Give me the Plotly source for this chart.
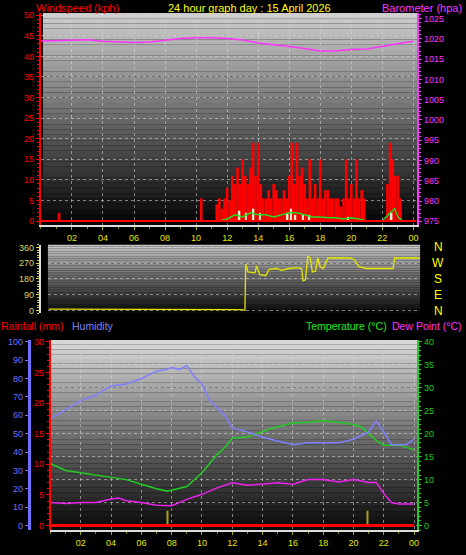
import numpy as np
import plotly.graph_objects as go

W, H = 466, 555
FONT = "Liberation Sans"

# ---------------- data ----------------
hours_tick = ["02", "04", "06", "08", "10", "12", "14", "16", "18", "20", "22", "00"]
tick_vals = [2, 4, 6, 8, 10, 12, 14, 16, 18, 20, 22, 24]

gust_times = [1.17, 10.33,
              11.33, 11.5, 11.67, 11.83, 12.0, 12.17, 12.33, 12.5, 12.67, 12.83,
              13.0, 13.17, 13.33, 13.5, 13.67, 13.83, 14.0, 14.17, 14.33, 14.5,
              14.67, 14.83, 15.0, 15.17, 15.33, 15.5, 15.67, 15.83, 16.0, 16.17,
              16.33, 16.5, 16.67, 16.83, 17.0, 17.17, 17.33, 17.5, 17.67, 17.83,
              18.0, 18.17, 18.33, 18.5, 18.67, 18.83, 19.0, 19.17, 19.33, 19.5,
              19.67, 19.83, 20.0, 20.17, 20.33, 20.5, 20.67, 20.83,
              22.33, 22.5, 22.67, 22.83, 23.0, 23.17]
gust_vals = [2, 5.5,
             4, 5.5, 3, 5.5, 8, 5, 11, 9, 13, 9,
             15, 11, 9, 13, 19, 11, 19, 9, 5.5, 5.5,
             7.5, 5.5, 9, 7.5, 5.5, 5.5, 7.5, 5.5, 11, 19,
             9, 19, 11, 13, 9, 5.5, 15, 5.5, 9, 5.5,
             15, 5.5, 7.5, 7.5, 5.5, 5.5, 5.5, 5.5, 3.5, 5.5,
             15, 5.5, 9, 5.5, 15, 5.5, 7.5, 5.5,
             9, 19, 15, 11, 11, 5.5]
avg_times = [11.5, 12.0, 12.5, 13.0, 13.5, 14.0, 14.5, 15.0, 15.5, 16.0, 16.5, 17.0,
             17.5, 18.0, 18.5, 19.0, 19.5, 20.0, 20.5, 21.0, 22.0, 22.5, 22.8, 23.0, 23.3]
avg_vals = [0, 0.5, 1.5, 1, 2, 1.5, 1.5, 1, 1.5, 2, 2, 1.5,
            1, 1, 0.8, 0.8, 0.5, 0.8, 0.5, 0, 0, 2, 3, 1, 0]
lull_times = [12.8, 13.2, 13.7, 14.1, 15.9, 16.1, 16.4, 16.9, 17.3, 19.8, 22.6]
lull_vals = [2.5, 2, 3, 2, 2, 3, 1.5, 1.5, 1.5, 1, 2]

baro_times = list(range(25))
baro_vals = [1019.5, 1019.6, 1019.8, 1019.8, 1019.4, 1019.2, 1019.1, 1019.2, 1019.6,
             1020.1, 1020.3, 1020.3, 1020.1, 1019.7, 1019.0, 1018.6, 1018.1, 1017.6,
             1017.0, 1017.0, 1017.4, 1017.5, 1018.2, 1018.8, 1019.4]

dir_times = [0.5, 12.5, 12.8, 13.15, 13.2, 13.35, 13.8, 13.9, 14.1, 14.5, 14.7, 15.2,
             15.5, 16.0, 16.5, 16.8, 16.9, 17.05, 17.2, 17.35, 17.5, 17.7, 17.85,
             18.0, 18.2, 18.5, 19.0, 19.9, 20.2, 20.5, 21.0, 22.0, 22.7, 22.8, 24.5]
dir_vals = [8, 8, 5, 2, 265, 220, 215, 255, 205, 200, 235, 240,
            230, 240, 245, 240, 170, 175, 310, 300, 220, 225, 300,
            250, 240, 300, 300, 300, 290, 250, 240, 240, 240, 300, 300]

hum_times = [0, 1, 2, 3, 4, 5, 6, 7, 7.7, 8, 8.5, 9, 9.5, 10, 10.5, 11, 11.5, 12, 13,
             14, 15, 16, 17, 18, 19, 20, 20.5, 21, 21.5, 22, 22.5, 23, 23.5, 24]
hum_vals = [58, 63, 68, 71, 76, 77, 80, 84, 85, 86, 85, 87, 81, 77, 68, 64, 60, 53, 51,
            48, 46, 44, 45, 45, 45, 47, 49, 51, 57, 51, 44, 44, 44, 47]

temp_times = [0, 1, 2, 3, 4, 5, 6, 7, 7.7, 8, 9, 10, 10.5, 11, 11.5, 12, 13, 14, 14.5,
              15, 16, 17, 18, 19, 20, 20.5, 21, 21.5, 22, 23, 24]
temp_vals = [13.5, 12, 11.5, 11, 10.5, 10, 9, 8, 7.5, 7.7, 8.5, 11.5, 13.5, 15.5, 17,
             19, 19.3, 20.5, 21, 21.5, 22.3, 22.5, 22.8, 22.5, 22, 21.5, 20, 18.5,
             17.5, 17.5, 16.5]

dew_times = [0, 1, 2, 3, 4, 4.5, 5, 6, 7, 8, 9, 10, 11, 12, 13, 14, 15, 16, 17, 18, 19,
             20, 21, 21.5, 22, 22.5, 23, 24]
dew_vals = [5, 4.8, 5, 5, 5.8, 6, 5.4, 5, 4.4, 4.3, 5.7, 6.8, 8.2, 9.3, 8.8, 9, 9.3, 9,
            10, 10, 9.5, 10, 9.4, 9.4, 7, 5, 4.7, 4.7]

rain_times = [0, 6, 12, 18, 24]
rain_vals = [0, 0, 0, 0, 0]

mark_times = [7.7, 20.9]
mark_height = [3.2, 3.2]

# ---------------- layout helpers ----------------
def fx(px):
    return px / W

def fy(py):
    return 1 - py / H

fig = go.Figure()

shapes = []
def gradient(x0, x1, y0, y1, top, bot, n=40):
    for i in range(n):
        t = i / (n - 1)
        c = int(top + (bot - top) * t)
        ya = y0 + (y1 - y0) * i / n
        yb = y0 + (y1 - y0) * (i + 1) / n
        shapes.append(dict(type="rect", xref="paper", yref="paper", layer="below",
                           x0=fx(x0), x1=fx(x1), y0=fy(ya), y1=fy(yb),
                           fillcolor=f"rgb({c},{c},{c})", line_width=0))

gradient(43, 418, 10, 224, 205, 5)
gradient(48, 421, 244, 313, 195, 10)
gradient(51, 420, 340, 532, 215, 10)

fig.add_bar(x=gust_times, y=gust_vals, width=0.17, marker_color="#ff0000",
            marker_line_width=0, xaxis="x", yaxis="y")
fig.add_bar(x=lull_times, y=lull_vals, width=0.1, marker_color="#e0f0d0",
            marker_line_width=0, xaxis="x", yaxis="y")
fig.add_scatter(x=avg_times, y=avg_vals, mode="lines", line=dict(color="#22dd22", width=1.5),
                xaxis="x", yaxis="y")
fig.add_scatter(x=baro_times, y=baro_vals, mode="lines", line=dict(color="#ff33ff", width=1.5),
                xaxis="x", yaxis="y2")

fig.add_scatter(x=dir_times, y=dir_vals, mode="lines", line=dict(color="#e6e600", width=1.3),
                xaxis="x2", yaxis="y3")

fig.add_scatter(x=rain_times, y=rain_vals, mode="lines", line=dict(color="#ff0000", width=3),
                xaxis="x3", yaxis="y5")
fig.add_scatter(x=hum_times, y=hum_vals, mode="lines", line=dict(color="#8080ff", width=1.5),
                xaxis="x3", yaxis="y4")
fig.add_scatter(x=temp_times, y=temp_vals, mode="lines", line=dict(color="#22cc22", width=1.5),
                xaxis="x3", yaxis="y6")
fig.add_scatter(x=dew_times, y=dew_vals, mode="lines", line=dict(color="#ee22ee", width=1.5),
                xaxis="x3", yaxis="y6")
fig.add_bar(x=mark_times, y=mark_height, width=0.08, marker_color="#b0a020",
            marker_line_width=0, xaxis="x3", yaxis="y6")

tickfont = lambda c: dict(family=FONT, size=9, color=c)
grid = dict(showgrid=True, gridcolor="rgba(215,215,215,0.55)", griddash="dot", gridwidth=1)

shapes.append(dict(type="line", xref="x", yref="y", x0=0, x1=24.2, y0=0, y1=0,
                   line=dict(color="#ff0000", width=2)))

fig.update_layout(
    width=W, height=H, margin=dict(l=0, r=0, t=0, b=0),
    paper_bgcolor="black", plot_bgcolor="rgba(0,0,0,0)",
    showlegend=False, barmode="overlay", shapes=shapes,
    xaxis=dict(domain=[fx(41), fx(418)], range=[0, 24.24], anchor="y",
               tickvals=tick_vals, ticktext=hours_tick, tickfont=tickfont("#e6e600"),
               ticks="outside", ticklen=3, tickcolor="#aaaa00", zeroline=False,
               minor=dict(dtick=1, ticks="outside", ticklen=2, tickcolor="#888800"),
               showline=True, linecolor="#dddddd", linewidth=2, **grid),
    yaxis=dict(domain=[fy(224), fy(10)], range=[-0.96, 50.55], dtick=5,
               tickfont=tickfont("#ff0000"), ticks="outside", ticklen=3, tickcolor="#ff0000",
               minor=dict(dtick=1, ticks="outside", ticklen=2, tickcolor="#ff0000"),
               showline=True, linecolor="#ff0000", linewidth=2, zeroline=False, **grid),
    yaxis2=dict(overlaying="y", side="right", range=[974.1, 1026.4], dtick=5,
                tickfont=tickfont("#ff33ff"), ticks="outside", ticklen=3, tickcolor="#ff33ff",
                minor=dict(dtick=1, ticks="outside", ticklen=2, tickcolor="#ff33ff"),
                showline=True, linecolor="#ff33ff", linewidth=2, showgrid=False, zeroline=False),
    xaxis2=dict(domain=[fx(48), fx(421)], range=[0.45, 24.44], anchor="y3",
                showticklabels=False, ticks="", tickvals=tick_vals, zeroline=False,
                showline=False, showgrid=False),
    yaxis3=dict(domain=[fy(313), fy(244)], range=[-15.3, 375.3], tickvals=[0, 90, 180, 270, 360],
                tickfont=tickfont("#d8d860"), ticks="outside", ticklen=3, tickcolor="#d8d860",
                minor=dict(dtick=15, ticks="outside", ticklen=2, tickcolor="#c8c860"),
                showline=True, linecolor="#dddddd", linewidth=2, zeroline=False, **grid),
    xaxis3=dict(domain=[fx(50.6), fx(420)], range=[0, 24.33], anchor="y6",
                tickvals=tick_vals, ticktext=hours_tick, tickfont=tickfont("#e6e600"),
                ticks="outside", ticklen=3, tickcolor="#aaaa00", zeroline=False,
                minor=dict(dtick=1, ticks="outside", ticklen=2, tickcolor="#888800"),
                showline=True, linecolor="#dddddd", linewidth=2, **grid),
    yaxis6=dict(domain=[fy(532), fy(340)], range=[-1.01, 40.4], dtick=5, side="right",
                tickfont=tickfont("#22cc22"), ticks="outside", ticklen=3, tickcolor="#22cc22",
                minor=dict(dtick=1, ticks="outside", ticklen=2, tickcolor="#22cc22"),
                showline=True, linecolor="#22cc22", linewidth=2, zeroline=False, **grid),
    yaxis4=dict(overlaying="y6", anchor="free", position=fx(29), side="left",
                range=[-2.53, 101], dtick=10, tickfont=tickfont("#7070ff"),
                ticks="outside", ticklen=3, tickcolor="#7070ff",
                showline=True, linecolor="#7070ff", linewidth=3, showgrid=False, zeroline=False),
    yaxis5=dict(overlaying="y6", anchor="free", position=fx(50), side="left",
                range=[-0.76, 30.3], dtick=5, tickfont=tickfont("#ff0000"),
                ticks="outside", ticklen=3, tickcolor="#ff0000",
                minor=dict(dtick=1, ticks="outside", ticklen=2, tickcolor="#ff0000"),
                showline=True, linecolor="#ff0000", linewidth=2, showgrid=False, zeroline=False),
)

ann = []
def txt(x, y, s, c, anchor="left", size=11):
    ann.append(dict(x=fx(x), y=fy(y), xref="paper", yref="paper", text=s, showarrow=False,
                    xanchor=anchor, yanchor="middle", font=dict(family=FONT, size=size, color=c)))

txt(34, 5, "Windspeed (kph)", "#ff0000")
txt(250, 5, "24 hour graph day : 15 April 2026", "#ffff00", "center")
txt(465, 5, "Barometer (hpa)", "#ff33ff", "right")
txt(-1, 326, "Rainfall (mm)", "#ff0000", size=10.5)
txt(70, 326, "Humidity", "#8080ff", size=10.5)
txt(390, 326, "Temperature (°C)", "#22ee22", "right", size=10.5)
txt(465, 326, "Dew Point (°C)", "#ff33ff", "right", size=10.5)
for lab, v in zip(["N", "W", "S", "E", "N"], [360, 270, 180, 90, 0]):
    ann.append(dict(x=fx(439), y=v, xref="paper", yref="y3", text=lab, showarrow=False,
                    xanchor="center", yanchor="middle",
                    font=dict(family=FONT, size=12, color="#ffff00")))
fig.update_layout(annotations=ann)

fig.write_html("out.html", config={"displayModeBar": False},
               post_script="document.body.style.margin='0';document.body.style.overflow='hidden';")
